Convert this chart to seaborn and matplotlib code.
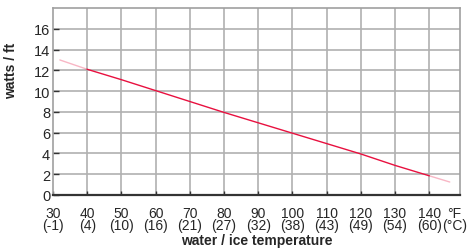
import numpy as np
import pandas as pd
import matplotlib
matplotlib.use("Agg")
import matplotlib.pyplot as plt
import seaborn as sns

# data
temp_f = [32, 40, 50, 60, 70, 80, 90, 100, 110, 120, 130, 140, 146]
watts_ft = [13.0, 12.1, 11.1, 10.05, 9.0, 7.95, 6.95, 5.95, 4.95, 3.95, 2.85, 1.85, 1.25]
tick_f = [30, 40, 50, 60, 70, 80, 90, 100, 110, 120, 130, 140]
tick_c = [-1, 4, 10, 16, 21, 27, 32, 38, 43, 49, 54, 60]
y_ticks = [0, 2, 4, 6, 8, 10, 12, 14, 16]

sns.set_theme(style="white")
plt.rcParams["font.family"] = ["Liberation Sans Narrow", "Liberation Sans", "DejaVu Sans"]

df = pd.DataFrame({"temp": temp_f, "watts": watts_ft})

fig = plt.figure(figsize=(4.67, 2.51), dpi=100)
ax = fig.add_axes([53 / 467, 1 - 196 / 251, (460 - 53) / 467, (196 - 9) / 251])

line_col = "#e8103f"
sns.lineplot(data=df.iloc[1:-1], x="temp", y="watts", ax=ax, color=line_col, lw=1.0)
# faded ends
sns.lineplot(data=df.iloc[:2], x="temp", y="watts", ax=ax, color=line_col, lw=1.0, alpha=0.3)
sns.lineplot(data=df.iloc[-2:], x="temp", y="watts", ax=ax, color=line_col, lw=1.0, alpha=0.3)

ax.set_xlim(30, 149)
ax.set_ylim(0, 18)

grid_col = "#b0b0b0"
for v in tick_f[1:]:
    ax.axvline(v, color=grid_col, lw=1.2, zorder=0)
for v in y_ticks[1:]:
    ax.axhline(v, color=grid_col, lw=1.2, zorder=0)

for s in ["top", "right", "left"]:
    ax.spines[s].set_color("#a0a0a0")
    ax.spines[s].set_linewidth(1.2)
ax.spines["bottom"].set_color("#333333")
ax.spines["bottom"].set_linewidth(1.6)

ax.set_yticks(y_ticks)
ax.set_yticklabels([str(v) for v in y_ticks], fontsize=10.5)
xt = tick_f + [147.3]
xl = [f"{f}\n({c})" for f, c in zip(tick_f, tick_c)] + ["°F\n(°C)"]
ax.set_xticks(xt)
ax.set_xticklabels(xl, fontsize=10, linespacing=0.78)
ax.tick_params(axis="y", direction="in", length=4, width=1, color="#333333", pad=2, left=True)
ax.tick_params(axis="x", direction="in", length=3, width=1, color="#333333", pad=8, bottom=True)
ax.get_xticklines()[-2].set_visible(False)

ax.set_xlabel("water / ice temperature", fontsize=10, fontweight="bold", labelpad=1)
ax.set_ylabel("watts / ft", fontsize=10, fontweight="bold")
ax.yaxis.set_label_coords(-0.085, 0.67)

fig.savefig("out.png", dpi=100)
